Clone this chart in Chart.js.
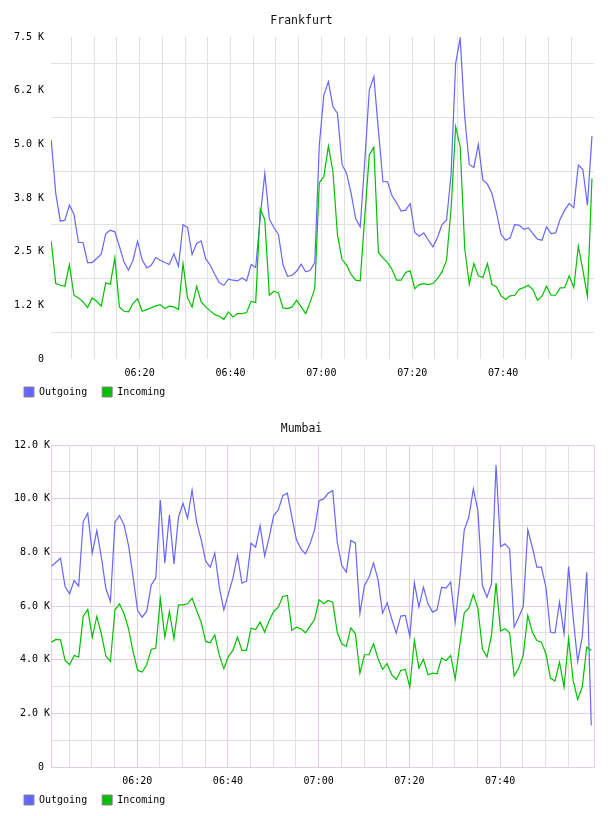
<!DOCTYPE html>
<html>
<head>
<meta charset="utf-8">
<title>Traffic</title>
<script src="https://cdn.jsdelivr.net/npm/chart.js@4.4.1/dist/chart.umd.min.js"></script>
<style>
    body { margin: 0; background: #fff; }
    .chart-box { width: 608px; height: 408px; }
</style>
</head>
<body>
<div class="chart-box"><canvas id="frankfurtChart" width="608" height="408"></canvas></div>
<div class="chart-box"><canvas id="mumbaiChart" width="608" height="408"></canvas></div>
<script>
// Samples are one per minute, starting just after 06:00
var frankfurtOutgoing = [5100, 3855, 3210, 3234, 3584, 3374, 2713, 2713, 2247, 2247,
    2340, 2441, 2923, 3000, 2962, 2627, 2262, 2068, 2301, 2744,
    2317, 2122, 2185, 2363, 2301, 2247, 2200, 2449, 2161, 3125,
    3063, 2433, 2690, 2752, 2332, 2185, 1967, 1773, 1718, 1858,
    1835, 1819, 1889, 1819, 2200, 2130, 3311, 4322, 3257, 3063,
    2900, 2200, 1928, 1951, 2044, 2208, 2029, 2068, 2247, 4983,
    6149, 6460, 5876, 5721, 4532, 4322, 3855, 3272, 3078, 4600,
    6265, 6576, 5332, 4128, 4128, 3801, 3638, 3444, 3467, 3622,
    2946, 2860, 2938, 2767, 2612, 2829, 3132, 3233, 4300, 6887,
    7470, 5643, 4532, 4462, 4998, 4166, 4073, 3855, 3412, 2899,
    2767, 2821, 3132, 3116, 3023, 3054, 2922, 2790, 2767, 3078,
    2922, 2938, 3257, 3467, 3622, 3521, 4516, 4415, 3583, 5192];

var frankfurtIncoming = [2744, 1757, 1718, 1695, 2200, 1485, 1423, 1330, 1198, 1423,
    1345, 1229, 1773, 1742, 2356, 1213, 1112, 1097, 1291, 1408,
    1112, 1151, 1190, 1236, 1267, 1174, 1229, 1213, 1151, 2224,
    1423, 1213, 1695, 1330, 1213, 1120, 1034, 995, 925, 1097,
    979, 1057, 1057, 1081, 1345, 1314, 3490, 3249, 1485, 1578,
    1539, 1190, 1174, 1213, 1368, 1213, 1057, 1330, 1640, 4104,
    4250, 4960, 4361, 2884, 2317, 2185, 1967, 1835, 1819, 3311,
    4752, 4930, 2482, 2356, 2247, 2084, 1835, 1835, 2014, 2053,
    1640, 1733, 1757, 1733, 1757, 1873, 2029, 2301, 3500, 5410,
    4944, 2573, 1742, 2224, 1936, 1897, 2224, 1733, 1679, 1470,
    1384, 1470, 1485, 1625, 1663, 1718, 1617, 1368, 1462, 1695,
    1485, 1485, 1655, 1663, 1936, 1663, 2627, 2068, 1462, 4205];

var mumbaiOutgoing = [7484, 7633, 7782, 6727, 6454, 6950, 6739, 9146, 9457, 7968,
    8812, 7819, 6640, 6169, 9121, 9370, 9022, 8252, 7073, 5832,
    5584, 5808, 6789, 7037, 9953, 7596, 9395, 7571, 9308, 9829,
    9270, 10325, 9121, 8476, 7670, 7447, 7968, 6702, 5857, 6454,
    7037, 7881, 6851, 6925, 8339, 8190, 8997, 7856, 8563, 9370,
    9581, 10114, 10201, 9308, 8464, 8129, 7943, 8315, 8836, 9928,
    9990, 10201, 10300, 8378, 7509, 7260, 8440, 8340, 5734, 6764,
    7074, 7608, 6975, 5734, 6119, 5523, 4990, 5622, 5647, 4866,
    6864, 5958, 6702, 6081, 5771, 5858, 6702, 6665, 6888, 5399,
    6950, 8836, 9308, 10363, 9556, 6764, 6330, 6826, 11257, 8215,
    8315, 8128, 5212, 5584, 5981, 8836, 8191, 7446, 7446, 6702,
    5027, 4990, 6144, 4966, 7471, 5584, 3934, 4840, 7260, 1551];

var mumbaiIncoming = [4654, 4753, 4741, 3971, 3810, 4158, 4096, 5610, 5871, 4841,
    5610, 4965, 4133, 3934, 5858, 6082, 5709, 5151, 4282, 3599,
    3537, 3810, 4381, 4431, 6267, 4841, 5796, 4779, 6045, 6045,
    6082, 6293, 5833, 5399, 4679, 4629, 4927, 4158, 3662, 4121,
    4344, 4841, 4344, 4344, 5175, 5126, 5399, 5027, 5461, 5796,
    5957, 6355, 6392, 5089, 5213, 5151, 5002, 5250, 5498, 6230,
    6082, 6205, 6143, 5027, 4592, 4493, 5188, 4965, 3500, 4183,
    4183, 4592, 4034, 3637, 3848, 3438, 3264, 3599, 3637, 2979,
    4716, 3686, 4009, 3438, 3500, 3475, 4059, 3971, 4158, 3289,
    4530, 5746, 5920, 6429, 5920, 4406, 4096, 4903, 6851, 5064,
    5151, 5002, 3389, 3686, 4158, 5647, 5027, 4716, 4654, 4220,
    3314, 3202, 3909, 2979, 4778, 3227, 2519, 2979, 4468, 4344];

// Axis labels
var timeLabels = ['06:20', '06:40', '07:00', '07:20', '07:40'];
var timeLabelMinutes = [20, 40, 60, 80, 100];
var frankfurtYLabels = ['0', '1.2 K', '2.5 K', '3.8 K', '5.0 K', '6.2 K', '7.5 K'];
var mumbaiYLabels = ['0 ', '2.0 K', '4.0 K', '6.0 K', '8.0 K', '10.0 K', '12.0 K'];

var outColor = '#6666ff';
var inColor = '#00c000';
var gridGray = '#e0e0e0';
var gridPurple = '#e6cce6';
var monoFont = 'DejaVu Sans Mono';

// Turn a list of per-minute values into {x, y} points
function toPoints(values, start) {
    return values.map(function (v, i) {
        return { x: start + i, y: v };
    });
}

// The time labels need a tall axis box (labels are clipped to it),
// so pull the legend back up right under them
var legendLift = {
    id: 'legendLift',
    afterLayout: function (chart) {
        chart.legend.top -= 9;
        chart.legend.bottom -= 9;
    }
};

function makeTrafficChart(canvasId, cfg) {
    var ctx = document.getElementById(canvasId).getContext('2d');
    return new Chart(ctx, {
        type: 'line',
        plugins: [legendLift],
        data: {
            datasets: [{
                label: 'Outgoing',
                data: toPoints(cfg.outgoing, cfg.start),
                borderColor: outColor,
                backgroundColor: outColor,
                borderWidth: 1.2,
                pointRadius: 0,
                tension: 0,
                order: 1
            }, {
                label: 'Incoming',
                data: toPoints(cfg.incoming, cfg.start),
                borderColor: inColor,
                backgroundColor: inColor,
                borderWidth: 1.2,
                pointRadius: 0,
                tension: 0,
                order: 0
            }]
        },
        options: {
            responsive: false,
            animation: false,
            layout: { padding: { left: 9, right: 14, top: 0, bottom: -8 } },
            plugins: {
                tooltip: { enabled: false },
                title: {
                    display: true,
                    text: cfg.title,
                    color: '#111',
                    font: { family: monoFont, size: 11.5, weight: 'normal' },
                    padding: { top: 14.5, bottom: 8.7 }
                },
                legend: {
                    position: 'bottom',
                    align: 'start',
                    labels: {
                        boxWidth: 10,
                        boxHeight: 10,
                        padding: 15,
                        color: '#000',
                        font: { family: monoFont, size: 10 },
                        sort: function (a, b) { return a.datasetIndex - b.datasetIndex; },
                        generateLabels: function (chart) {
                            var items = Chart.defaults.plugins.legend.labels.generateLabels(chart);
                            items.forEach(function (item) {
                                item.strokeStyle = '#888';
                                item.lineWidth = 1;
                            });
                            return items;
                        }
                    }
                }
            },
            scales: {
                x: {
                    type: 'linear',
                    min: cfg.xMin,
                    max: cfg.xMax,
                    afterBuildTicks: function (scale) {
                        var ticks = [];
                        for (var m = 5; m < 120; m += 5) ticks.push({ value: m });
                        if (cfg.frame) ticks.push({ value: cfg.xMax });
                        scale.ticks = ticks;
                    },
                    afterFit: function (scale) { scale.height = 22; },
                    grid: {
                        drawTicks: false,
                        color: function (c) {
                            var v = c.tick.value;
                            if (cfg.frame && (v % 20 === 0 || v === cfg.xMax)) return gridPurple;
                            return gridGray;
                        }
                    },
                    border: { display: cfg.frame, color: gridPurple },
                    ticks: {
                        autoSkip: false,
                        maxRotation: 0,
                        padding: 8,
                        color: '#000',
                        font: { family: monoFont, size: 10 },
                        callback: function (value) {
                            var i = timeLabelMinutes.indexOf(value);
                            return i >= 0 ? timeLabels[i] : '';
                        }
                    }
                },
                y: {
                    min: 0,
                    max: cfg.yMax,
                    afterBuildTicks: function (scale) {
                        var ticks = [];
                        for (var v = 0; v <= cfg.yMax; v += cfg.gridStep) ticks.push({ value: v });
                        scale.ticks = ticks;
                    },
                    afterFit: function (scale) { scale.width = 42; },
                    grid: {
                        drawTicks: false,
                        color: function (c) {
                            var v = c.tick.value;
                            if (v % cfg.labelStep === 0) {
                                return cfg.frame ? gridPurple : 'rgba(0,0,0,0)';
                            }
                            return gridGray;
                        }
                    },
                    border: { display: cfg.frame, color: gridPurple },
                    ticks: {
                        autoSkip: false,
                        padding: cfg.labelPad,
                        color: '#000',
                        font: { family: monoFont, size: 10 },
                        callback: function (value) {
                            if (value % cfg.labelStep !== 0) return '';
                            return cfg.yLabels[value / cfg.labelStep];
                        }
                    }
                }
            }
        }
    });
}

// Frankfurt: labels every 1.25 K, grid lines half way between them
var frankfurtChart = makeTrafficChart('frankfurtChart', {
    title: 'Frankfurt',
    outgoing: frankfurtOutgoing,
    incoming: frankfurtIncoming,
    start: 0.55,
    xMin: 0.5,
    xMax: 120,
    yMax: 7500,
    gridStep: 625,
    labelStep: 1250,
    yLabels: frankfurtYLabels,
    labelPad: 7,
    frame: false
});

// Mumbai: framed plot, purple major grid
var mumbaiChart = makeTrafficChart('mumbaiChart', {
    title: 'Mumbai',
    outgoing: mumbaiOutgoing,
    incoming: mumbaiIncoming,
    start: 1.1,
    xMin: 1.0,
    xMax: 120.7,
    yMax: 12000,
    gridStep: 1000,
    labelStep: 2000,
    yLabels: mumbaiYLabels,
    labelPad: 1,
    frame: true
});
</script>
</body>
</html>
